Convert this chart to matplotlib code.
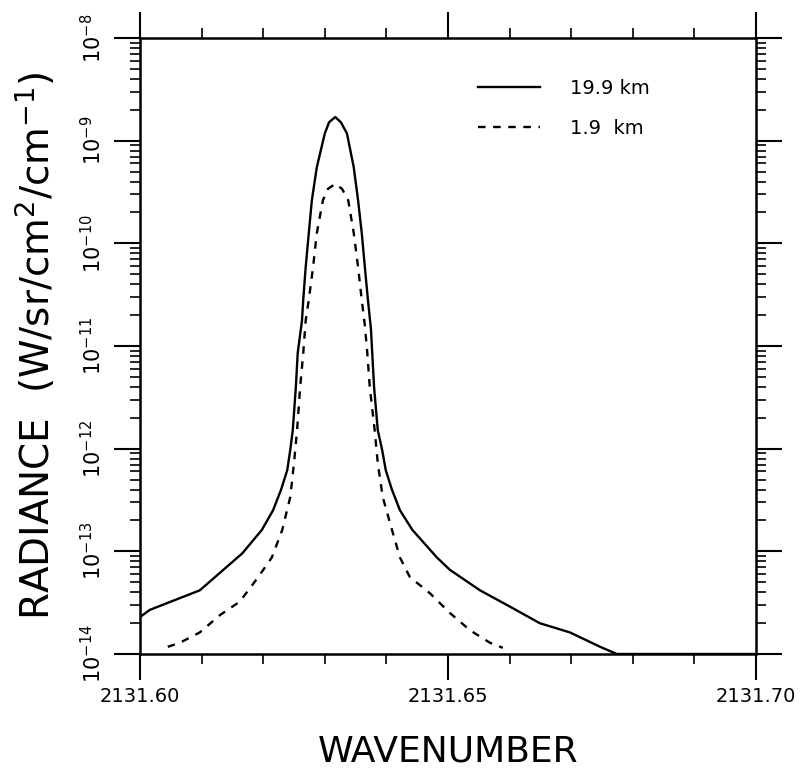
import numpy as np
import matplotlib
matplotlib.use('Agg')
import matplotlib.pyplot as plt
from matplotlib.ticker import LogLocator, FixedLocator, MultipleLocator, NullFormatter

# 19.9 km curve (wavenumber, log10 radiance)
wn_high = [2131.6000, 2131.6016, 2131.6097, 2131.6166, 2131.6198, 2131.6216,
           2131.6229, 2131.6239, 2131.6244, 2131.6248, 2131.6253, 2131.6256,
           2131.6263, 2131.6265, 2131.6269, 2131.6274, 2131.6279, 2131.6287,
           2131.6300, 2131.6307, 2131.6317, 2131.6326, 2131.6336, 2131.6347,
           2131.6354, 2131.6360, 2131.6365, 2131.6370, 2131.6375, 2131.6377,
           2131.6380, 2131.6386, 2131.6393, 2131.6399, 2131.6409, 2131.6422,
           2131.6442, 2131.6482, 2131.6503, 2131.6552, 2131.6601, 2131.6649,
           2131.6698, 2131.6747, 2131.6774, 2131.7000]
log_high = [-13.64, -13.57, -13.38, -13.02, -12.79, -12.60,
            -12.40, -12.21, -12.01, -11.82, -11.40, -11.07,
            -10.75, -10.55, -10.23, -9.90, -9.58, -9.26,
            -8.93, -8.82, -8.77, -8.82, -8.93, -9.26,
            -9.58, -9.90, -10.23, -10.55, -10.84, -11.07,
            -11.40, -11.82, -12.01, -12.21, -12.40, -12.60,
            -12.79, -13.06, -13.18, -13.38, -13.54, -13.70,
            -13.79, -13.93, -14.00, -14.00]

# 1.9 km curve
wn_low = [2131.6045, 2131.6065, 2131.6097, 2131.6130, 2131.6162, 2131.6192,
          2131.6214, 2131.6231, 2131.6244, 2131.6250, 2131.6255, 2131.6260,
          2131.6265, 2131.6269, 2131.6274, 2131.6281, 2131.6287, 2131.6297,
          2131.6305, 2131.6317, 2131.6328, 2131.6338, 2131.6347, 2131.6354,
          2131.6360, 2131.6365, 2131.6369, 2131.6373, 2131.6381, 2131.6386,
          2131.6394, 2131.6409, 2131.6422, 2131.6438, 2131.6471, 2131.6503,
          2131.6536, 2131.6568, 2131.6589]
log_low = [-13.93, -13.89, -13.79, -13.62, -13.49, -13.25,
           -13.06, -12.79, -12.47, -12.14, -11.82, -11.40,
           -11.07, -10.75, -10.55, -10.23, -9.90, -9.58,
           -9.47, -9.42, -9.47, -9.58, -9.90, -10.23,
           -10.55, -10.80, -11.07, -11.40, -11.82, -12.14,
           -12.47, -12.79, -13.06, -13.25, -13.41, -13.60,
           -13.77, -13.89, -13.94]

labels = ['19.9 km', '1.9  km']
xticks = [2131.60, 2131.65, 2131.70]
xticklabels = ['2131.60', '2131.65', '2131.70']
ydecades = [-14, -13, -12, -11, -10, -9, -8]

fig = plt.figure(figsize=(8.05, 7.75), dpi=100)
ax = fig.add_axes([140/805, 1-654/775, 616/805, 616/775])

ax.plot(wn_high, 10.0**np.array(log_high), 'k-', lw=1.7, label=labels[0])
ax.plot(wn_low, 10.0**np.array(log_low), 'k--', lw=1.7, dashes=(3.2, 3.2), label=labels[1])

ax.set_yscale('log')
ax.set_xlim(2131.60, 2131.70)
ax.set_ylim(1e-14, 1e-8)

ax.xaxis.set_major_locator(FixedLocator(xticks))
ax.set_xticklabels(xticklabels, fontsize=14)
ax.xaxis.set_minor_locator(MultipleLocator(0.01))

ax.yaxis.set_major_locator(FixedLocator([10.0**d for d in ydecades]))
ax.set_yticklabels(['10$^{%d}$' % d for d in ydecades], fontsize=15,
                   rotation=90, va='center')
ax.yaxis.set_minor_locator(LogLocator(base=10, subs=np.arange(2, 10)))
ax.yaxis.set_minor_formatter(NullFormatter())

ax.tick_params(which='major', direction='out', length=19, width=1.5,
               top=True, right=True, pad=5)
ax.tick_params(axis='y', which='major', pad=6)
ax.tick_params(which='minor', direction='out', length=7, width=1.2,
               top=True, right=True)
for s in ax.spines.values():
    s.set_linewidth(1.8)

ax.set_xlabel('WAVENUMBER', fontsize=26, labelpad=20)
ax.set_ylabel('RADIANCE  (W/sr/cm$^2$/cm$^{-1}$)', fontsize=28, labelpad=16)

ax.legend(frameon=False, loc='upper left', bbox_to_anchor=(0.549, 0.933),
          borderaxespad=0, borderpad=0, fontsize=14, handlelength=3.2,
          handletextpad=1.5, labelspacing=1.05)

fig.savefig('out.png', dpi=100)
